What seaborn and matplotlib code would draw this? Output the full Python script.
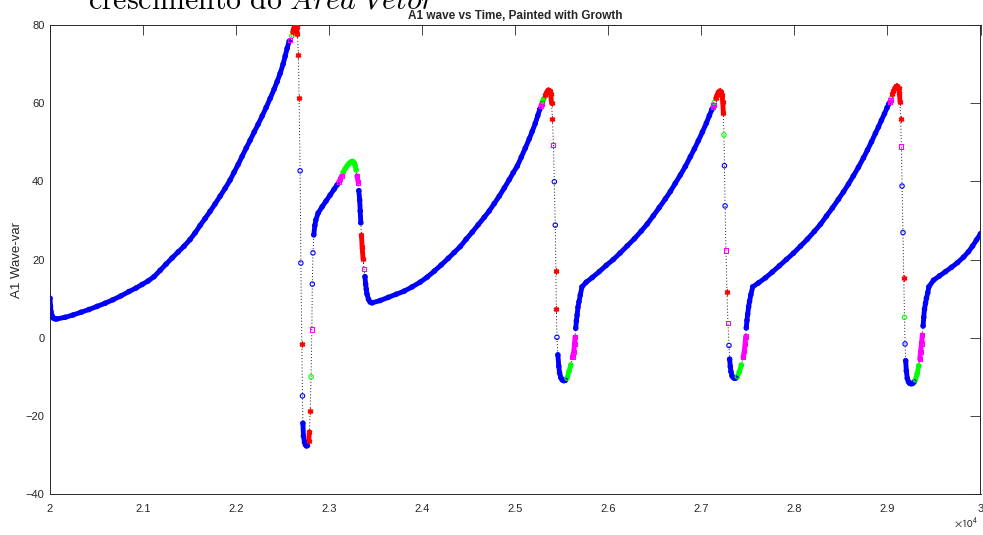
import numpy as np
import pandas as pd
import matplotlib
matplotlib.use("Agg")
import matplotlib.pyplot as plt
import seaborn as sns

# growth colour codes per sample: b = blue, r = red, m = magenta, g = green
rise1_t = [20000, 20005, 20011, 20022, 20038, 20054, 20075, 20161, 20247, 20333, 20419, 20505, 20591,
           20677, 20763, 20849, 20925, 20989, 21054, 21118, 21183, 21247, 21312, 21376, 21441, 21505,
           21559, 21613, 21667, 21720, 21774, 21828, 21882, 21935, 21978, 22022, 22065, 22108, 22151,
           22194, 22237, 22280, 22323, 22366, 22409, 22441, 22473, 22505, 22527, 22548, 22570]
rise1_y = [10.1, 8.1, 6.6, 5.6, 5.0, 4.8, 4.8, 5.2, 5.8, 6.5, 7.2, 8.0, 8.8, 9.7, 10.7, 11.8, 12.7, 13.6,
           14.5, 15.6, 17.2, 18.8, 20.4, 21.9, 23.4, 25.1, 26.8, 28.7, 30.5, 32.3, 34.2, 36.2, 38.2, 40.3,
           42.3, 44.3, 46.4, 48.5, 50.5, 52.6, 54.6, 56.7, 58.9, 61.2, 63.6, 65.5, 67.6, 70.0, 72.0, 74.0, 75.8]
rise1_g = "b" * 51

peak1_t = [22581, 22599, 22608, 22618, 22629, 22640, 22651, 22659, 22670, 22677, 22688, 22696, 22706,
           22713, 22718, 22724, 22735, 22745, 22756, 22767, 22780, 22788, 22796, 22806, 22814, 22819,
           22826, 22835, 22846, 22857, 22882, 22925, 22968, 23011, 23054, 23086, 23102, 23118, 23134,
           23151, 23172, 23194, 23215, 23237, 23253, 23269, 23280, 23290, 23298, 23312, 23319, 23328,
           23334, 23340, 23347, 23355, 23364, 23375, 23385, 23392, 23399, 23406, 23423, 23441]
peak1_y = [76.2, 77.2, 78.2, 79.1, 79.7, 79.9, 79.5, 77.6, 72.4, 61.3, 42.7, 19.1, -1.7, -14.9, -21.9,
           -25.2, -26.7, -27.4, -27.7, -27.6, -26.4, -24.1, -18.8, -10.0, 2.1, 13.7, 21.7, 26.3, 28.7,
           30.1, 31.9, 33.5, 35.0, 36.5, 38.0, 39.1, 39.8, 40.5, 41.4, 42.3, 43.2, 44.0, 44.6, 45.0, 45.1,
           44.7, 44.0, 42.9, 41.4, 39.7, 37.6, 35.2, 32.4, 29.4, 26.2, 23.1, 20.2, 17.6, 15.6, 13.7, 12.4,
           11.2, 9.8, 9.1]
peak1_g = "mgrrrrrrrrbbrbbbbbbbrrrgmbbbbbbbbbbbmmmgggggggggmmbbbbrrrmbbbbbb"

rise2_t = [23462, 23548, 23634, 23720, 23806, 23892, 23978, 24054, 24129, 24204, 24280, 24344, 24409,
           24473, 24538, 24602, 24667, 24720, 24774, 24828, 24882, 24935, 24978, 25022, 25065, 25108,
           25151, 25183, 25215, 25242, 25263]
rise2_y = [8.9, 9.5, 10.3, 11.1, 11.9, 13.0, 14.2, 15.5, 17.0, 18.6, 20.3, 21.8, 23.3, 25.2, 27.0, 28.9,
           30.8, 32.4, 34.3, 36.2, 38.3, 40.4, 42.2, 43.9, 46.2, 48.5, 50.9, 52.8, 54.8, 56.8, 58.4]
rise2_g = "b" * 31

peak2_t = [25274, 25285, 25296, 25306, 25323, 25339, 25355, 25369, 25380, 25390, 25400, 25410, 25420,
           25430, 25436, 25442, 25448, 25458, 25468, 25476, 25489, 25505, 25522, 25538, 25556, 25577,
           25597, 25616, 25628, 25637, 25643, 25650, 25657, 25665, 25674, 25685, 25699, 25717]
peak2_y = [59.3, 59.9, 60.5, 61.1, 62.0, 62.9, 63.4, 63.2, 62.3, 60.0, 55.9, 49.3, 39.9, 28.8, 17.1, 7.3,
           0.1, -4.4, -7.3, -9.0, -10.2, -10.8, -11.0, -10.9, -10.4, -8.7, -7.0, -5.0, -3.6, -1.7, 0.2,
           2.4, 4.3, 5.8, 7.8, 9.2, 10.9, 13.0]
peak2_g = "mmggrrrrrrrmbbrrbbbbbbbbgggmmmmbbbbbbb"

rise3_t = [25763, 25828, 25903, 25978, 26054, 26129, 26204, 26280, 26355, 26419, 26484, 26548, 26613,
           26667, 26720, 26774, 26828, 26882, 26925, 26968, 27011, 27054, 27086, 27113]
rise3_y = [14.2, 15.4, 16.9, 18.5, 20.0, 21.7, 23.5, 25.3, 27.3, 29.1, 31.2, 33.3, 35.5, 37.4, 39.5,
           41.6, 43.8, 46.3, 48.3, 50.4, 52.6, 54.9, 56.8, 58.4]
rise3_g = "b" * 24

peak3_t = [27124, 27131, 27140, 27154, 27168, 27183, 27197, 27210, 27222, 27229, 27237, 27243, 27248,
           27255, 27264, 27275, 27286, 27297, 27304, 27311, 27318, 27330, 27344, 27358, 27372, 27387,
           27409, 27430, 27449, 27461, 27470, 27476, 27483, 27490, 27498, 27508, 27518, 27532, 27552]
peak3_y = [59.0, 59.6, 60.2, 61.2, 62.1, 62.8, 63.2, 62.9, 62.1, 60.4, 57.4, 51.9, 44.0, 33.7, 22.3,
           11.8, 3.7, -2.0, -5.5, -7.4, -8.7, -9.8, -10.2, -10.4, -10.3, -10.0, -8.7, -7.0, -5.0, -3.5,
           -1.6, 0.3, 2.5, 4.4, 6.0, 7.9, 9.3, 11.0, 13.0]
peak3_g = "mmgrrrrrrrrgbbmrmbbbbbbbbgggmmmmbbbbbbb"

rise4_t = [27613, 27688, 27763, 27839, 27914, 27989, 28065, 28140, 28215, 28280, 28344, 28409, 28473,
           28527, 28581, 28634, 28688, 28742, 28785, 28828, 28871, 28903, 28935, 28968, 28995, 29014]
rise4_y = [14.0, 15.3, 16.8, 18.4, 20.0, 21.6, 23.4, 25.2, 27.2, 29.0, 31.1, 33.2, 35.4, 37.3, 39.3,
           41.4, 43.6, 46.0, 48.0, 50.1, 52.3, 53.9, 55.6, 57.3, 58.8, 59.8]
rise4_g = "b" * 26

peak4_t = [29024, 29033, 29043, 29054, 29065, 29078, 29093, 29108, 29120, 29129, 29135, 29142, 29150,
           29157, 29167, 29175, 29183, 29189, 29196, 29203, 29213, 29226, 29240, 29256, 29272, 29287,
           29301, 29319, 29336, 29347, 29356, 29366, 29375, 29383, 29390, 29398, 29409, 29419, 29433, 29445]
peak4_y = [60.3, 60.8, 61.3, 62.3, 63.0, 63.8, 64.3, 64.3, 63.8, 62.6, 60.4, 55.9, 48.9, 38.8, 26.9,
           15.2, 5.2, -1.6, -5.9, -8.5, -10.4, -11.3, -11.7, -11.8, -11.7, -11.3, -10.8, -9.3, -7.2, -5.5,
           -3.6, -1.5, 0.7, 3.0, 5.2, 7.3, 8.8, 10.1, 11.5, 13.0]
peak4_g = "mmgrrrrrrrrrmbbrgbbbbbbbbbgggmmmmbbbbbbb"

rise5_t = [29495, 29559, 29624, 29688, 29753, 29817, 29871, 29914, 29957, 30000]
rise5_y = [14.7, 15.8, 16.9, 18.0, 19.2, 20.6, 22.0, 23.4, 25.0, 26.6]
rise5_g = "b" * 10

x_ticks = [20000, 21000, 22000, 23000, 24000, 25000, 26000, 27000, 28000, 29000, 30000]
x_labels = ["2", "2.1", "2.2", "2.3", "2.4", "2.5", "2.6", "2.7", "2.8", "2.9", "3"]
y_ticks = [-40, -20, 0, 20, 40, 60, 80]

sections = [(rise1_t, rise1_y, rise1_g), (peak1_t, peak1_y, peak1_g),
            (rise2_t, rise2_y, rise2_g), (peak2_t, peak2_y, peak2_g),
            (rise3_t, rise3_y, rise3_g), (peak3_t, peak3_y, peak3_g),
            (rise4_t, rise4_y, rise4_g), (peak4_t, peak4_y, peak4_g),
            (rise5_t, rise5_y, rise5_g)]
df = pd.concat([pd.DataFrame({"time": t, "wave": y, "growth": list(g)}) for t, y, g in sections],
               ignore_index=True)

colors = {"b": (0, 0, 1), "r": (1, 0, 0), "m": (1, 0, 1), "g": (0, 1, 0)}

sns.set_style("white")
plt.rcParams["font.family"] = ["Liberation Sans", "DejaVu Sans"]

fig = plt.figure(figsize=(9.83, 5.35), dpi=100)
ax = fig.add_axes([50 / 983, 41 / 535, 930.5 / 983, 469 / 535])
ax.set_xlim(20000, 30000)
ax.set_ylim(-40, 80)

# dotted connecting line through every sample
sns.lineplot(data=df, x="time", y="wave", sort=False, estimator=None, color="0.1",
             lw=0.7, linestyle=(0, (1, 2.2)), ax=ax, zorder=1)

# dense runs of markers in the original merge into a solid band
pts = ax.transData.transform(df[["time", "wave"]].to_numpy())
gr = df["growth"].to_numpy()


def draw_run(run):
    if len(run) > 1:
        ax.plot(df["time"].iloc[run], df["wave"].iloc[run], color=colors[gr[run[0]]],
                lw=3.5, solid_capstyle="round", solid_joinstyle="round", zorder=2)


run = [0]
for i in range(1, len(df)):
    close = np.hypot(*(pts[i] - pts[i - 1])) < 13 and gr[i] == gr[i - 1]
    if close:
        run.append(i)
    else:
        draw_run(run)
        run = [i]
draw_run(run)

# markers per growth class
for key, marker, size in [("b", "o", 10), ("g", "o", 10), ("m", "s", 9)]:
    sub = df[df["growth"] == key]
    sns.scatterplot(data=sub, x="time", y="wave", marker=marker, s=size, color=colors[key],
                    facecolor="none", edgecolor=colors[key], linewidth=0.8, ax=ax, zorder=3,
                    legend=False)
sub = df[df["growth"] == "r"]
sns.scatterplot(data=sub, x="time", y="wave", marker=(6, 2, 0), s=11, color=colors["r"],
                linewidth=1.1, ax=ax, zorder=3, legend=False)

ax.set_xticks(x_ticks)
ax.set_xticklabels(x_labels)
ax.set_yticks(y_ticks)
ax.tick_params(direction="in", length=7, width=0.6, top=True, right=True, labelsize=8,
               colors="#262626")
ax.tick_params(axis="x", pad=7.5)
ax.tick_params(axis="y", pad=4)
for sp in ax.spines.values():
    sp.set_visible(True)
    sp.set_color("#262626")
    sp.set_linewidth(0.7)

ax.set_xlabel("")
ax.set_ylabel("A1 Wave-var", fontsize=9.5, color="#262626")
ax.yaxis.set_label_coords(-0.0295, 0.5)
ax.set_title("A1 wave vs Time, Painted with Growth", fontsize=8.5, fontweight="bold", pad=4.5)

fig.text(966 / 983, 1 - 527 / 535, r"$\times10^{4}$", fontsize=8, ha="center", va="baseline",
         color="#262626", math_fontfamily="stixsans")
fig.text(88 / 983, 1 - 10 / 535, r"$\mathrm{crescimento\ do}\ \mathit{\acute{A}rea\ Vetor}$",
         fontsize=21.5, ha="left", va="baseline", math_fontfamily="cm", color="black")

fig.savefig("out.png", dpi=100)
